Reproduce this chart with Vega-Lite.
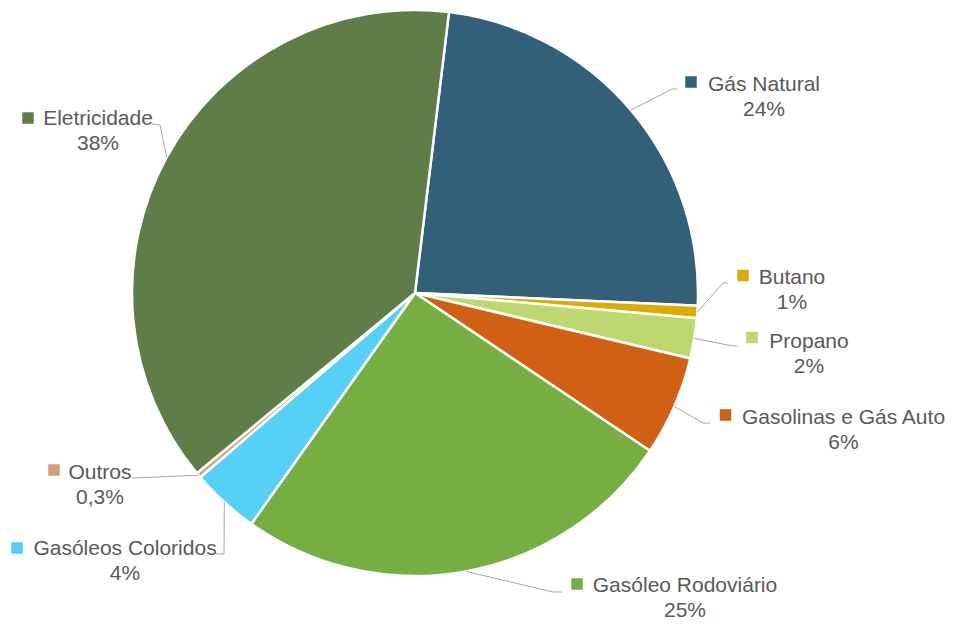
{
  "$schema": "https://vega.github.io/schema/vega-lite/v6.json",
  "width": 830,
  "height": 586,
  "autosize": {"type": "none"},
  "padding": {"left": 0, "top": 0, "right": 124, "bottom": 38},
  "background": "white",
  "config": {"view": {"stroke": null}, "text": {"font": "Liberation Sans"}},
  "data": {
    "values": [
      {"cat": "Gás Natural", "value": 23.8, "pct": "24%", "ord": 0},
      {"cat": "Butano", "value": 0.7, "pct": "1%", "ord": 1},
      {"cat": "Propano", "value": 2.3, "pct": "2%", "ord": 2},
      {"cat": "Gasolinas e Gás Auto", "value": 5.7, "pct": "6%", "ord": 3},
      {"cat": "Gasóleo Rodoviário", "value": 25.4, "pct": "25%", "ord": 4},
      {"cat": "Gasóleos Coloridos", "value": 3.9, "pct": "4%", "ord": 5},
      {"cat": "Outros", "value": 0.3, "pct": "0,3%", "ord": 6},
      {"cat": "Eletricidade", "value": 37.9, "pct": "38%", "ord": 7}
    ]
  },
  "transform": [
    {"window": [{"op": "sum", "field": "value", "as": "cum"}], "sort": [{"field": "ord"}], "frame": [null, 0]},
    {"joinaggregate": [{"op": "sum", "field": "value", "as": "total"}]},
    {"calculate": "0.1204 + 2*PI*(datum.cum - datum.value/2)/datum.total", "as": "mid"},
    {"calculate": "283*sin(datum.mid)", "as": "sx"},
    {"calculate": "-283*cos(datum.mid)", "as": "sy"},
    {"calculate": "[349,377,394,428.5,270,-290,-315,-317][datum.ord]", "as": "tx"},
    {"calculate": "[-202,-9,55,131,299,262,186,-168][datum.ord]", "as": "ty"},
    {"calculate": "[276,328,337,310.5,162,-398,-361,-387][datum.ord]", "as": "mx"},
    {"calculate": "[-211,-17.5,44.5,122,291,255,177,-175][datum.ord]", "as": "my"},
    {"calculate": "[257,308,318,288,138,-191,-282,-255][datum.ord]", "as": "ex"},
    {"calculate": "[-204,-10,53,130,299,261,185,-168][datum.ord]", "as": "ey"},
    {"calculate": "[262,313,322,295,147,-199,-283,-263][datum.ord]", "as": "fx"},
    {"calculate": "[-204,-10,53,130,299,261,185,-169][datum.ord]", "as": "fy"},
    {"calculate": "datum.cat + '\\n' + datum.pct", "as": "lbl"}
  ],
  "layer": [
    {
      "mark": {"type": "arc", "outerRadius": 283, "stroke": "white", "strokeWidth": 2.5},
      "encoding": {
        "theta": {"field": "value", "type": "quantitative", "stack": true, "scale": {"range": [0.1204, 6.4036]}},
        "order": {"field": "ord", "type": "quantitative"},
        "color": {
          "field": "cat", "type": "nominal", "legend": null,
          "scale": {
            "domain": ["Gás Natural", "Butano", "Propano", "Gasolinas e Gás Auto", "Gasóleo Rodoviário", "Gasóleos Coloridos", "Outros", "Eletricidade"],
            "range": ["#326078", "#DDAA00", "#BDD86F", "#D06112", "#76AE41", "#57D0F5", "#D49F78", "#5E7D47"]
          }
        }
      }
    },
    {
      "mark": {"type": "rule", "color": "#A6A6A6", "strokeWidth": 1},
      "encoding": {
        "x": {"field": "sx", "type": "quantitative", "axis": null, "scale": {"domain": [-415, 415], "nice": false, "zero": false}},
        "y": {"field": "sy", "type": "quantitative", "axis": null, "scale": {"domain": [-293, 293], "reverse": true, "nice": false, "zero": false}},
        "x2": {"field": "ex"},
        "y2": {"field": "ey"}
      }
    },
    {
      "mark": {"type": "rule", "color": "#A6A6A6", "strokeWidth": 1},
      "encoding": {
        "x": {"field": "ex", "type": "quantitative", "axis": null, "scale": {"domain": [-415, 415], "nice": false, "zero": false}},
        "y": {"field": "ey", "type": "quantitative", "axis": null, "scale": {"domain": [-293, 293], "reverse": true, "nice": false, "zero": false}},
        "x2": {"field": "fx"},
        "y2": {"field": "fy"}
      }
    },
    {
      "mark": {"type": "point", "shape": "square", "filled": true, "size": 132, "opacity": 1},
      "encoding": {
        "x": {"field": "mx", "type": "quantitative", "axis": null, "scale": {"domain": [-415, 415], "nice": false, "zero": false}},
        "y": {"field": "my", "type": "quantitative", "axis": null, "scale": {"domain": [-293, 293], "reverse": true, "nice": false, "zero": false}},
        "color": {"field": "cat", "type": "nominal", "legend": null}
      }
    },
    {
      "mark": {"type": "text", "align": "center", "baseline": "alphabetic", "fontSize": 21, "lineHeight": 24.5, "lineBreak": "\n", "color": "#595959"},
      "encoding": {
        "x": {"field": "tx", "type": "quantitative", "axis": null, "scale": {"domain": [-415, 415], "nice": false, "zero": false}},
        "y": {"field": "ty", "type": "quantitative", "axis": null, "scale": {"domain": [-293, 293], "reverse": true, "nice": false, "zero": false}},
        "text": {"field": "lbl"}
      }
    }
  ]
}
